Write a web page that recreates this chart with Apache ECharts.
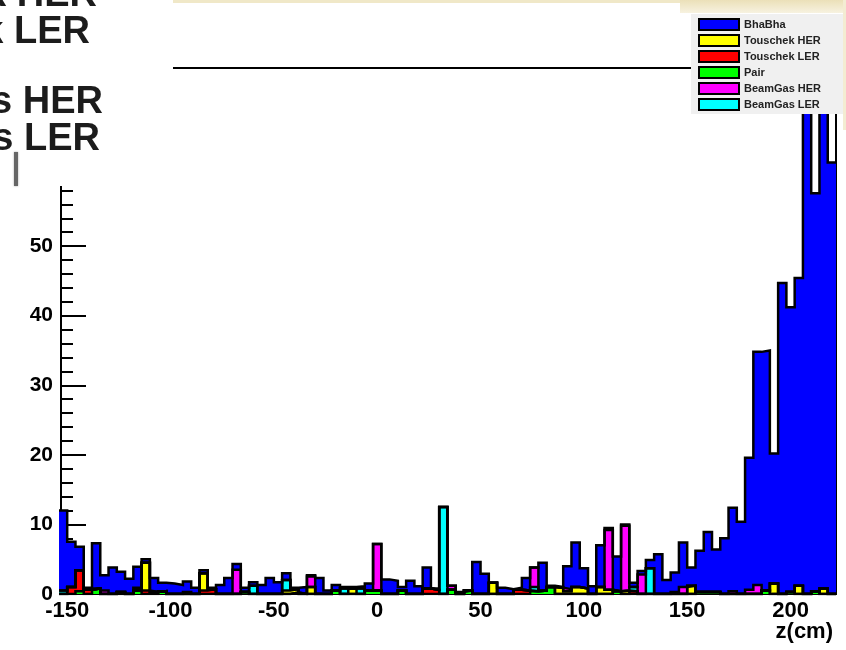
<!DOCTYPE html>
<html>
<head>
<meta charset="utf-8">
<script src="https://cdn.jsdelivr.net/npm/echarts@6/dist/echarts.min.js"></script>
<style>
  html, body { margin: 0; padding: 0; background: #fff; }
  #chart { width: 846px; height: 650px; }
</style>
</head>
<body>
<div id="chart"></div>
<script>
// histogram bins: 4 cm wide, first bin starts at -154 (only partly visible)
const binStart = -154;
const binWidth = 4;
const xTickValues = [-150, -100, -50, 0, 50, 100, 150, 200];

// counts per bin, one array per source (94 bins)
const bhabha = [
  11.5, 6.5, 3.4, 0.3, 6.5, 2.2, 3.8, 2.9, 2.2, 3.0,
  0.5, 2.0, 1.2, 1.5, 1.3, 1.5, 0.9, 0.4, 0.2, 1.3,
  2.3, 0.8, 0.6, 0.5, 1.3, 2.3, 1.7, 1.0, 0.2, 1.0,
  0.2, 2.3, 0.5, 0.8, 0.2, 0.2, 0.3, 1.0, 0, 2.1,
  1.9, 0.5, 1.9, 1.1, 3.0, 0.2, 0, 0, 0.3, 0,
  4.6, 2.9, 0, 0.9, 0.7, 0.3, 1.8, 0, 4.0, 0.2,
  0.1, 3.3, 6.4, 2.9, 1.1, 6.0, 0.3, 5.0, 0.2, 0.6,
  0.5, 1.2, 5.7, 2.0, 2.8, 6.4, 2.6, 5.9, 8.6, 6.1,
  8.0, 12.0, 10.4, 19.0, 33.5, 34.5, 18.7, 44.7, 40.9, 44.2,
  70, 57.2, 71.2, 62
];
const touschekHer = [
  0, 0, 0, 0, 0, 0, 0, 0, 0, 0,
  4.0, 0, 0, 0, 0, 0, 0, 2.5, 0, 0,
  0, 0, 0, 0, 0, 0, 0, 0.5, 0.5, 0,
  1.0, 0, 0, 0, 0, 0.8, 0, 0, 0, 0,
  0, 0, 0, 0, 0, 0, 0, 0, 0, 0,
  0, 0, 1.6, 0, 0, 0, 0, 0, 0, 0,
  0.9, 0.4, 1.0, 0.8, 0, 1.0, 0.6, 0, 0.5, 0,
  0, 0, 0, 0, 0, 0, 1.2, 0, 0, 0,
  0, 0, 0, 0, 0, 0, 1.5, 0, 0, 1.2,
  0, 0, 0.8, 0
];
const touschekLer = [
  0, 1.0, 3.0, 0.6, 0, 0, 0, 0.3, 0, 0,
  0.5, 0.3, 0, 0, 0, 0, 0, 0.5, 0.7, 0,
  0, 0, 0, 0, 0, 0, 0, 0, 0, 0,
  0, 0, 0, 0, 0, 0, 0, 0, 0, 0,
  0, 0, 0, 0, 0.8, 0.6, 0, 0, 0, 0,
  0, 0, 0, 0, 0, 0.6, 0.5, 0, 0, 0,
  0, 0, 0, 0, 0, 0, 0, 0, 0, 0.4,
  0, 0, 0, 0, 0, 0, 0, 0, 0, 0,
  0, 0, 0, 0, 0, 0, 0, 0, 0, 0,
  0, 0, 0, 0
];
const pair = [
  0, 0, 0.4, 0, 0.8, 0, 0, 0, 0, 0.5,
  0, 0, 0.4, 0, 0, 0, 0, 0, 0, 0,
  0, 0, 0.3, 0, 0, 0, 0, 0, 0.2, 0,
  0, 0, 0, 0.5, 0, 0, 0, 0.5, 0.5, 0,
  0, 0.5, 0, 0, 0, 0, 0, 0.6, 0, 0.5,
  0, 0, 0, 0, 0, 0, 0, 0.4, 0.5, 1.0,
  0, 0, 0, 0, 0, 0, 0, 0.4, 0, 0,
  0, 0, 0, 0, 0, 0, 0, 0.3, 0.3, 0.3,
  0, 0, 0, 0, 0, 0.5, 0, 0, 0.3, 0,
  0, 0.4, 0, 0
];
const beamGasHer = [
  0, 0, 0, 0, 0, 0.5, 0, 0, 0, 0.4,
  0, 0, 0, 0, 0, 0.3, 0, 0, 0, 0,
  0, 3.5, 0, 0, 0, 0, 0, 0, 0, 0,
  1.5, 0, 0, 0, 0, 0, 0, 0, 6.7, 0,
  0, 0, 0, 0, 0, 0, 0, 0.6, 0, 0,
  0, 0, 0, 0, 0, 0, 0, 2.8, 0, 0,
  0, 0.3, 0, 0, 0, 0, 8.6, 0, 9.3, 0,
  2.8, 0, 0, 0, 0.3, 1.0, 0, 0, 0, 0,
  0, 0.4, 0, 0.6, 1.3, 0, 0, 0, 0, 0,
  0, 0, 0, 0
];
const beamGasLer = [
  0.5, 0, 0, 0, 0, 0, 0, 0, 0, 0,
  0, 0, 0, 0, 0, 0, 0, 0, 0, 0,
  0, 0, 0, 1.2, 0, 0, 0, 1.5, 0, 0,
  0, 0, 0, 0, 0.8, 0, 0.8, 0, 0, 0,
  0, 0, 0, 0, 0, 0, 12.5, 0, 0, 0,
  0, 0, 0, 0, 0, 0, 0, 0.6, 0, 0,
  0, 0, 0, 0, 0, 0, 0, 0, 0, 0.6,
  0, 3.7, 0, 0, 0, 0, 0, 0, 0, 0,
  0, 0, 0, 0, 0, 0, 0, 0, 0, 0,
  0, 0, 0, 0
];

const legendOrder = ['BhaBha', 'Touschek HER', 'Touschek LER', 'Pair', 'BeamGas HER', 'BeamGas LER'];
const colors = {
  'BhaBha': '#0000ff',
  'Touschek HER': '#ffff00',
  'Touschek LER': '#ff0000',
  'Pair': '#00ff00',
  'BeamGas HER': '#ff00ff',
  'BeamGas LER': '#00ffff'
};

// stack from the bottom up, like THStack
const layers = [
  { name: 'Pair', values: pair },
  { name: 'Touschek LER', values: touschekLer },
  { name: 'Touschek HER', values: touschekHer },
  { name: 'BeamGas LER', values: beamGasLer },
  { name: 'BeamGas HER', values: beamGasHer },
  { name: 'BhaBha', values: bhabha }
];
let running = new Array(bhabha.length).fill(0);
const stacked = layers.map(l => {
  running = running.map((v, i) => v + l.values[i]);
  return { name: l.name, cum: running.slice() };
});

// draw the total first, lower layers on top of it
const series = stacked.slice().reverse().map(l => {
  const pts = l.cum.map((v, i) => [binStart + i * binWidth, +v.toFixed(3)]);
  pts.push([binStart + l.cum.length * binWidth, pts[pts.length - 1][1]]);
  return {
    name: l.name,
    type: 'line',
    step: 'end',
    symbol: 'none',
    silent: true,
    data: pts,
    lineStyle: { color: '#000', width: 2.5, join: 'miter' },
    areaStyle: { color: colors[l.name], opacity: 1 },
    itemStyle: { color: colors[l.name] }
  };
});

const font = '"Liberation Sans", Arial, sans-serif';
const chart = echarts.init(document.getElementById('chart'));

chart.setOption({
  animation: false,
  backgroundColor: '#fff',
  grid: {
    left: 61, right: 10, top: 68, bottom: 56,
    show: true, borderColor: '#000', borderWidth: 2, backgroundColor: 'transparent'
  },
  legend: {
    orient: 'vertical',
    left: 691,
    top: 14,
    padding: [4, 40, 3, 7],
    backgroundColor: '#f0f0f0',
    itemWidth: 40,
    itemHeight: 11,
    itemGap: 3,
    itemTextGap: 8,
    selectedMode: false,
    textStyle: { fontFamily: font, fontWeight: 'bold', fontSize: 11, color: '#222' },
    data: legendOrder.map(n => ({
      name: n,
      icon: 'rect',
      itemStyle: { color: colors[n], borderColor: '#000', borderWidth: 2 }
    }))
  },
  xAxis: [{
    type: 'value',
    min: -153,
    max: 222,
    splitLine: { show: false },
    axisLine: { onZero: false, lineStyle: { color: '#000', width: 2 } },
    axisTick: { inside: true, length: 12, customValues: xTickValues, lineStyle: { color: '#000', width: 2 } },
    axisLabel: {
      customValues: xTickValues,
      margin: 6,
      fontFamily: font, fontWeight: 'bold', fontSize: 22, color: '#000'
    }
  }, {
    type: 'value',
    position: 'top',
    min: 0, max: 1,
    splitLine: { show: false },
    axisLine: { show: true, onZero: false, lineStyle: { color: '#000', width: 2 } },
    axisTick: { show: false },
    axisLabel: { show: false }
  }],
  yAxis: [{
    type: 'value',
    min: 0,
    max: 75.6,
    interval: 10,
    splitLine: { show: false },
    axisLine: { show: true, onZero: false, lineStyle: { color: '#000', width: 2 } },
    axisTick: { inside: true, length: 25, lineStyle: { color: '#000', width: 2 } },
    minorTick: { show: true, splitNumber: 5, length: 12, lineStyle: { color: '#000', width: 2 } },
    axisLabel: {
      margin: 8,
      showMaxLabel: false,
      fontFamily: font, fontWeight: 'bold', fontSize: 21, color: '#000'
    }
  }, {
    type: 'value',
    position: 'right',
    min: 0, max: 1,
    splitLine: { show: false },
    axisLine: { show: true, onZero: false, lineStyle: { color: '#000', width: 2 } },
    axisTick: { show: false },
    axisLabel: { show: false }
  }],
  series: series,
  graphic: [
    // cream page background peeking at the top
    { type: 'rect', z: 90, shape: { x: 173, y: 0, width: 673, height: 3 }, style: { fill: '#f0e8c8' } },
    {
      type: 'rect', z: 90, shape: { x: 680, y: 0, width: 166, height: 13 },
      style: {
        fill: new echarts.graphic.LinearGradient(0, 0, 0, 1, [
          { offset: 0, color: '#ebe0b8' }, { offset: 1, color: '#f7f2e0' }
        ])
      }
    },
    { type: 'rect', z: 90, shape: { x: 843, y: 0, width: 3, height: 130 }, style: { fill: '#f3ecd2' } },
    // overlapping picture in the top left corner
    { type: 'rect', z: 100, shape: { x: 0, y: 0, width: 173, height: 186 }, style: { fill: '#fff' } },
    ...[
      { t: 'Touschek HER', x: 97, y: -4 },
      { t: 'Touschek LER', x: 90, y: 33 },
      { t: 'BeamGas HER', x: 103, y: 103 },
      { t: 'BeamGas LER', x: 100, y: 140 }
    ].map(o => ({
      type: 'text', z: 101,
      style: {
        text: o.t, x: o.x, y: o.y, align: 'right', verticalAlign: 'middle',
        font: 'bold 38px ' + font, fill: '#1c1c1c',
        shadowColor: 'rgba(0,0,0,0.7)', shadowBlur: 4
      }
    })),
    { type: 'rect', z: 101, shape: { x: 14, y: 152, width: 4, height: 34 }, style: { fill: '#666', shadowColor: 'rgba(0,0,0,0.4)', shadowBlur: 2 } },
    // axis title
    {
      type: 'text', z: 101,
      style: {
        text: 'z(cm)', x: 833, y: 632, align: 'right', verticalAlign: 'middle',
        font: 'bold 22px ' + font, fill: '#000'
      }
    }
  ]
});
</script>
</body>
</html>
